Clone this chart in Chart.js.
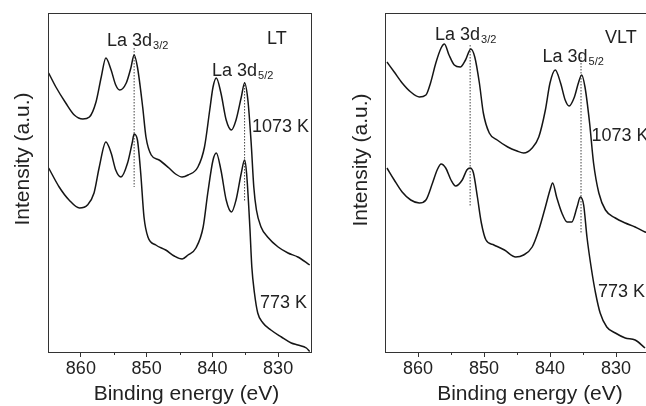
<!DOCTYPE html>
<html>
<head>
<meta charset="utf-8">
<script src="https://cdn.jsdelivr.net/npm/chart.js@4"></script>
<style>
  html, body { margin: 0; padding: 0; background: #fff; overflow: hidden; }
  body { width: 646px; height: 406px; position: relative; }
  canvas { position: absolute; top: 0; }
  #ltChart { left: 0; }
  #vltChart { left: 330px; }
</style>
</head>
<body>
<canvas id="ltChart" width="323" height="406"></canvas>
<canvas id="vltChart" width="330" height="406"></canvas>
<script>
// Binding energy (eV) and intensity (a.u.)
const ltHotE = [864.9, 863.8, 862.3, 861.0, 859.7, 858.7, 857.7, 856.9, 856.2, 855.4, 854.7, 854.1, 853.1, 852.4, 851.9, 851.4, 850.6, 850.1, 849.3, 848.1, 846.6, 845.6, 844.6, 843.7, 842.2, 841.2, 840.4, 839.9, 839.4, 838.7, 837.9, 837.1, 836.4, 835.6, 835.1, 834.6, 834.1, 833.7, 833.3, 832.6, 831.6, 830.0, 828.5, 827.0, 825.2];
const ltHotI = [279, 265, 249, 237, 233, 235, 250, 275, 294, 282, 267, 262, 269, 284, 297, 285, 245, 215, 197, 192, 184, 178, 175, 177, 185, 205, 242, 265, 274, 259, 232, 222, 232, 255, 269, 252, 209, 165, 142, 125, 115, 105, 99, 95, 87];

const ltColdE = [864.9, 863.3, 861.8, 860.2, 859.0, 858.0, 857.2, 856.2, 855.4, 854.7, 853.9, 852.9, 852.2, 851.9, 851.4, 850.9, 850.4, 849.8, 848.6, 847.1, 845.8, 844.6, 843.7, 842.5, 841.4, 840.7, 839.9, 839.4, 838.7, 837.9, 837.1, 836.4, 835.6, 835.1, 834.8, 834.3, 834.0, 833.6, 833.1, 832.3, 831.1, 829.5, 828.0, 827.0, 825.7, 825.2];
const ltColdI = [184, 165, 152, 144, 147, 159, 185, 210, 199, 182, 175, 189, 209, 218, 212, 179, 135, 115, 107, 102, 96, 93, 97, 104, 125, 159, 192, 199, 182, 152, 140, 152, 179, 192, 179, 125, 85, 59, 39, 29, 22, 15, 9, 7, 4, 0.5];

const vltHotE = [864.7, 863.6, 862.4, 861.1, 859.8, 858.8, 858.1, 857.3, 856.5, 856.0, 855.3, 854.5, 853.6, 852.8, 852.0, 851.4, 850.7, 850.1, 849.2, 848.0, 846.4, 845.0, 844.0, 842.7, 841.7, 840.7, 840.0, 839.2, 838.4, 837.7, 837.1, 836.3, 835.7, 835.2, 834.7, 834.0, 833.4, 832.6, 831.6, 830.1, 828.6, 827.1, 825.6, 825.0];
const vltHotI = [290, 280, 269, 260, 255, 257, 269, 289, 304, 308, 297, 287, 285, 292, 303, 295, 269, 239, 219, 212, 205, 201, 199, 204, 215, 242, 269, 282, 269, 252, 246, 255, 269, 277, 265, 229, 189, 159, 142, 134, 129, 125, 120, 119];

const vltColdE = [864.7, 863.6, 862.4, 861.1, 859.8, 858.8, 857.8, 857.1, 856.5, 855.8, 855.0, 854.3, 853.3, 852.6, 852.1, 851.6, 851.0, 850.4, 849.7, 848.5, 846.9, 845.2, 844.0, 842.7, 841.7, 840.7, 840.0, 839.6, 839.0, 838.2, 837.4, 836.7, 835.9, 835.4, 834.9, 834.4, 833.7, 833.1, 832.4, 831.4, 830.1, 828.6, 827.1, 825.6];
const vltColdI = [184, 172, 160, 152, 149, 152, 169, 182, 188, 184, 172, 166, 172, 182, 184, 179, 155, 129, 112, 107, 102, 95, 97, 105, 122, 145, 162, 169, 155, 139, 130, 130, 145, 155, 147, 115, 82, 59, 39, 25, 19, 14, 12, 4];

// dotted peak markers: [energy, top, bottom]
const ltMarks = [[851.9, 304, 165], [835.1, 270, 150]];
const vltMarks = [[852.1, 307, 145], [835.3, 295, 119]];

const tickLabels = [860, 850, 840, 830];
const minorTicks = [855, 845, 835];

const FONT = '"Liberation Sans", Arial, sans-serif';

function pts(es, is) {
  return es.map((e, i) => ({ x: e, y: is[i] }));
}

const decor = {
  id: 'decor',
  afterDraw(chart, args, o) {
    const { ctx, chartArea: a } = chart;
    const x = chart.scales.x;
    ctx.save();
    ctx.strokeStyle = '#333';
    ctx.lineWidth = 1;
    ctx.strokeRect(Math.round(a.left) + 0.5, Math.round(a.top) + 0.5, Math.round(a.right - a.left), Math.round(a.bottom - a.top));
    ctx.beginPath();
    minorTicks.forEach(v => {
      const px = Math.round(x.getPixelForValue(v)) + 0.5;
      ctx.moveTo(px, a.bottom);
      ctx.lineTo(px, a.bottom + 3);
    });
    ctx.stroke();

    ctx.fillStyle = '#222';
    ctx.textBaseline = 'alphabetic';
    o.labels.forEach(l => {
      ctx.font = '18px ' + FONT;
      ctx.textAlign = 'left';
      ctx.fillText(l.text, l.x, l.y);
      if (l.sub) {
        const w = ctx.measureText(l.text).width;
        ctx.font = '11px ' + FONT;
        ctx.fillText(l.sub, l.x + w + 1, l.y + 3);
      }
    });

    ctx.font = '21px ' + FONT;
    ctx.textAlign = 'center';
    ctx.fillText('Binding energy (eV)', o.xTitle[0], o.xTitle[1]);
    ctx.translate(o.yTitle[0], o.yTitle[1]);
    ctx.rotate(-Math.PI / 2);
    ctx.fillText('Intensity (a.u.)', 0, 0);
    ctx.restore();
  }
};

function makeChart(id, hotE, hotI, coldE, coldI, marks, pad, deco) {
  const curve = data => ({
    data: data,
    borderColor: '#151515',
    borderWidth: 1.5,
    pointRadius: 0,
    cubicInterpolationMode: 'monotone'
  });
  const datasets = [curve(pts(hotE, hotI)), curve(pts(coldE, coldI))];
  marks.forEach(m => {
    datasets.push({
      data: [{ x: m[0], y: m[1] }, { x: m[0], y: m[2] }],
      borderColor: '#444',
      borderWidth: 1,
      borderDash: [1.5, 1.5],
      pointRadius: 0
    });
  });

  return new Chart(document.getElementById(id), {
    type: 'line',
    data: { datasets: datasets },
    options: {
      responsive: false,
      animation: false,
      layout: { padding: pad },
      plugins: { legend: { display: false }, tooltip: { enabled: false }, decor: deco },
      scales: {
        x: {
          type: 'linear',
          min: 825,
          max: 865,
          reverse: true,
          border: { display: false },
          grid: {
            drawOnChartArea: false,
            tickLength: 5,
            tickColor: c => (c.tick && tickLabels.includes(c.tick.value)) ? '#333' : 'rgba(0,0,0,0)'
          },
          ticks: {
            stepSize: 5,
            autoSkip: false,
            maxRotation: 0,
            padding: 1,
            color: '#222',
            font: { family: FONT, size: 18 },
            callback: v => tickLabels.includes(v) ? String(v) : ''
          },
          afterFit: s => { s.height = 54; }
        },
        y: { display: false, min: 0, max: 339 }
      }
    },
    plugins: [decor]
  });
}

makeChart('ltChart', ltHotE, ltHotI, ltColdE, ltColdI, ltMarks,
  { left: 48, top: 13, right: 12, bottom: 0 },
  {
    xTitle: [186.5, 400],
    yTitle: [28.5, 159],
    labels: [
      { text: 'La 3d', sub: '3/2', x: 107, y: 46 },
      { text: 'LT', x: 267, y: 44 },
      { text: 'La 3d', sub: '5/2', x: 212, y: 76 },
      { text: '1073 K', x: 252, y: 131.5 },
      { text: '773 K', x: 260, y: 307.5 }
    ]
  });

makeChart('vltChart', vltHotE, vltHotI, vltColdE, vltColdI, vltMarks,
  { left: 55, top: 13, right: 11, bottom: 0 },
  {
    xTitle: [200, 400],
    yTitle: [37, 160],
    labels: [
      { text: 'La 3d', sub: '3/2', x: 105, y: 39.5 },
      { text: 'VLT', x: 275, y: 43 },
      { text: 'La 3d', sub: '5/2', x: 212.5, y: 61.5 },
      { text: '1073 K', x: 261.5, y: 141 },
      { text: '773 K', x: 268, y: 296.5 }
    ]
  });
</script>
</body>
</html>
